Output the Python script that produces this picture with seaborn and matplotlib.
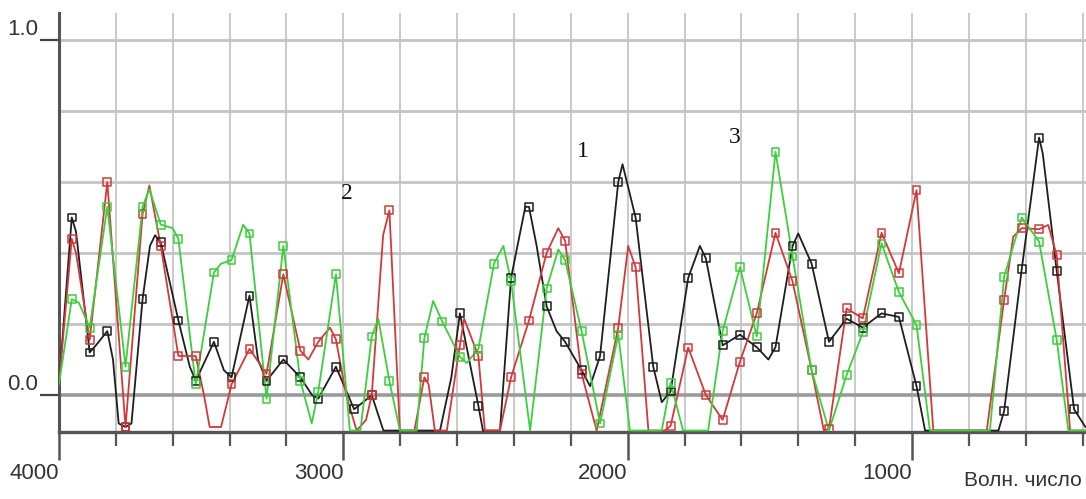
import numpy as np
import pandas as pd
import matplotlib
matplotlib.use("Agg")
import matplotlib.pyplot as plt
import seaborn as sns

# wavenumbers where the curves carry square markers
marker_wn = [3955, 3892, 3830, 3766, 3706, 3642, 3580, 3519, 3455, 3393, 3330, 3270,
             3211, 3151, 3088, 3026, 2962, 2900, 2838, 2715, 2652, 2590, 2525, 2470,
             2410, 2347, 2285, 2220, 2162, 2097, 2033, 1972, 1910, 1849, 1787, 1725,
             1666, 1605, 1546, 1480, 1420, 1353, 1292, 1230, 1173, 1107, 1046, 984,
             676, 614, 553, 491, 430]

# curve 1 (black)
black_x = [4000, 3955, 3940, 3892, 3870, 3830, 3810, 3790, 3766, 3745, 3706, 3680, 3662,
           3642, 3580, 3540, 3519, 3455, 3420, 3393, 3330, 3300, 3270, 3211, 3151, 3110,
           3088, 3026, 2962, 2930, 2900, 2859, 2660, 2620, 2590, 2525, 2509, 2449, 2410,
           2360, 2347, 2320, 2285, 2250, 2220, 2162, 2132, 2097, 2033, 2018, 1972, 1910,
           1880, 1849, 1787, 1746, 1725, 1666, 1605, 1546, 1505, 1480, 1420, 1400, 1353,
           1292, 1230, 1173, 1107, 1046, 984, 954, 696, 676, 614, 553, 540, 491, 430, 390]
black_y = [0.03, 0.50, 0.46, 0.12, 0.14, 0.18, 0.10, -0.08, -0.09, -0.08, 0.27, 0.42, 0.45,
           0.43, 0.21, 0.08, 0.04, 0.15, 0.07, 0.05, 0.28, 0.10, 0.04, 0.10, 0.05, 0.00,
           -0.01, 0.08, -0.04, -0.02, 0.00, -0.10, -0.10, 0.05, 0.23, -0.03, -0.10, -0.10, 0.33,
           0.53, 0.53, 0.42, 0.25, 0.18, 0.15, 0.07, 0.025, 0.11, 0.60, 0.65, 0.50, 0.08,
           -0.02, 0.01, 0.33, 0.42, 0.385, 0.14, 0.17, 0.135, 0.10, 0.135, 0.42, 0.455, 0.37,
           0.15, 0.215, 0.19, 0.23, 0.22, 0.025, -0.10, -0.10, -0.045, 0.355, 0.725, 0.68, 0.35, -0.04, -0.09]

# curve 2 (red)
red_x = [4000, 3955, 3940, 3892, 3830, 3766, 3706, 3682, 3642, 3580, 3519, 3490, 3470,
         3430, 3393, 3330, 3270, 3211, 3151, 3123, 3088, 3047, 3026, 2990, 2953, 2920,
         2900, 2860, 2838, 2801, 2750, 2715, 2700, 2678, 2636, 2590, 2575, 2525, 2502,
         2449, 2410, 2347, 2285, 2244, 2220, 2162, 2109, 2033, 1998, 1972, 1927, 1870,
         1849, 1787, 1725, 1666, 1605, 1546, 1480, 1420, 1353, 1310, 1292, 1230, 1173,
         1107, 1046, 984, 925, 737, 676, 644, 614, 553, 521, 491, 444, 390]
red_y = [0.03, 0.44, 0.40, 0.155, 0.60, -0.09, 0.51, 0.59, 0.42, 0.11, 0.11, 0.00, -0.09,
         -0.09, 0.03, 0.13, 0.06, 0.34, 0.125, 0.10, 0.15, 0.19, 0.157, 0.00, -0.10, -0.07,
         0.00, 0.45, 0.52, -0.10, -0.10, 0.05, 0.03, -0.10, -0.10, 0.14, 0.215, 0.11, -0.10,
         -0.10, 0.05, 0.21, 0.40, 0.47, 0.435, 0.06, -0.10, 0.19, 0.42, 0.36, -0.10, -0.10,
         -0.087, 0.134, 0.00, -0.07, 0.094, 0.23, 0.457, 0.32, 0.07, -0.10, -0.095, 0.244, 0.216,
         0.457, 0.343, 0.577, -0.10, -0.10, 0.268, 0.446, 0.47, 0.467, 0.479, 0.394, -0.10, -0.10]

# curve 3 (green)
green_x = [4000, 3955, 3930, 3892, 3830, 3766, 3706, 3682, 3642, 3600, 3580, 3519, 3455,
           3430, 3393, 3352, 3330, 3270, 3211, 3151, 3111, 3088, 3026, 2977, 2940, 2900,
           2877, 2838, 2801, 2742, 2715, 2684, 2652, 2590, 2566, 2525, 2470, 2437, 2410,
           2343, 2285, 2244, 2220, 2162, 2097, 2033, 1992, 1880, 1849, 1805, 1717, 1666,
           1605, 1546, 1480, 1420, 1353, 1292, 1230, 1173, 1107, 1046, 984, 937, 726, 676,
           614, 553, 491, 450, 390]
green_y = [0.03, 0.27, 0.26, 0.19, 0.53, 0.08, 0.53, 0.58, 0.48, 0.47, 0.44, 0.03, 0.345,
           0.37, 0.38, 0.48, 0.455, -0.01, 0.42, 0.04, -0.08, 0.01, 0.34, -0.10, -0.10, 0.165,
           0.215, 0.04, -0.10, -0.10, 0.16, 0.265, 0.207, 0.108, 0.09, 0.13, 0.37, 0.42, 0.32,
           -0.10, 0.30, 0.41, 0.38, 0.18, -0.08, 0.17, -0.10, -0.10, 0.035, -0.10, -0.10, 0.18,
           0.36, 0.165, 0.685, 0.39, 0.07, -0.10, 0.056, 0.176, 0.427, 0.29, 0.197, -0.10, -0.10, 0.333,
           0.50, 0.432, 0.155, -0.10, -0.10]

curve_labels = ["1", "2", "3"]
label_pos_x = [2157, 2987, 1622]
label_pos_y = [0.685, 0.569, 0.724]

sns.set_style("white")
plt.rcParams["font.family"] = ["Liberation Sans", "DejaVu Sans"]

fig = plt.figure(figsize=(10.86, 4.99), dpi=100)
ax = fig.add_axes([0.0543, 0.1343, 0.9457, 0.8397])

series = [("black", black_x, black_y, "#1e1e1e"),
          ("red", red_x, red_y, "#d2393a"),
          ("green", green_x, green_y, "#3ccf3c")]

for name, xs, ys, col in series:
    df = pd.DataFrame({"wn": xs, "a": ys})
    sns.lineplot(data=df, x="wn", y="a", ax=ax, color=col, lw=1.3,
                 estimator=None, sort=False, zorder=3)
    m = df[df["wn"].isin(marker_wn) & (df["a"] > -0.1)]
    sns.scatterplot(data=m, x="wn", y="a", ax=ax, marker="s", s=32,
                    facecolor="none", edgecolor=col, linewidth=1.1, zorder=4)

ax.set_xlim(4000, 388)
ax.set_ylim(-0.104, 1.076)

# grid
for v in np.arange(3800, 388, -200):
    ax.axvline(v, color="#cacaca", lw=1.4, zorder=1)
for h in [0.2, 0.4, 0.6, 0.8, 1.0]:
    ax.axhline(h, color="#c4c4c4", lw=2.0, zorder=1)
ax.axhline(0.0, color="#9a9a9a", lw=2.6, zorder=1)

ax.set_xticks([4000, 3000, 2000, 1000])
ax.set_xticklabels(["4000", "3000", "2000", "1000"], fontsize=16, color="#333333", ha="right")
ax.set_xticks(np.arange(3800, 388, -200), minor=True)
ax.tick_params(axis="x", which="major", length=20, width=1.8, color="#555555",
               direction="out", pad=2, bottom=True)
ax.tick_params(axis="x", which="minor", length=10, width=1.6, color="#555555",
               direction="out", bottom=True)

ax.set_yticks([0.0, 1.0])
ax.set_yticklabels(["0.0", "1.0"], fontsize=16, color="#333333")
ax.tick_params(axis="y", length=14, width=1.6, color="#444444", direction="out", pad=1, left=True)
for t in ax.get_yticklabels():
    t.set_verticalalignment("bottom")

ax.set_xlabel("")
ax.set_ylabel("")
for s in ["top", "right"]:
    ax.spines[s].set_visible(False)
ax.spines["left"].set_color("#555555")
ax.spines["left"].set_linewidth(2.2)
ax.spines["bottom"].set_color("#555555")
ax.spines["bottom"].set_linewidth(2.4)

for lab, lx, ly in zip(curve_labels, label_pos_x, label_pos_y):
    ax.text(lx, ly, lab, fontsize=17, family="Liberation Serif", ha="center", va="center",
            color="#111111")

fig.text(0.996, 0.018, "Волн. число", fontsize=15, color="#333333", ha="right", va="bottom")

fig.savefig("out.png", dpi=100)
